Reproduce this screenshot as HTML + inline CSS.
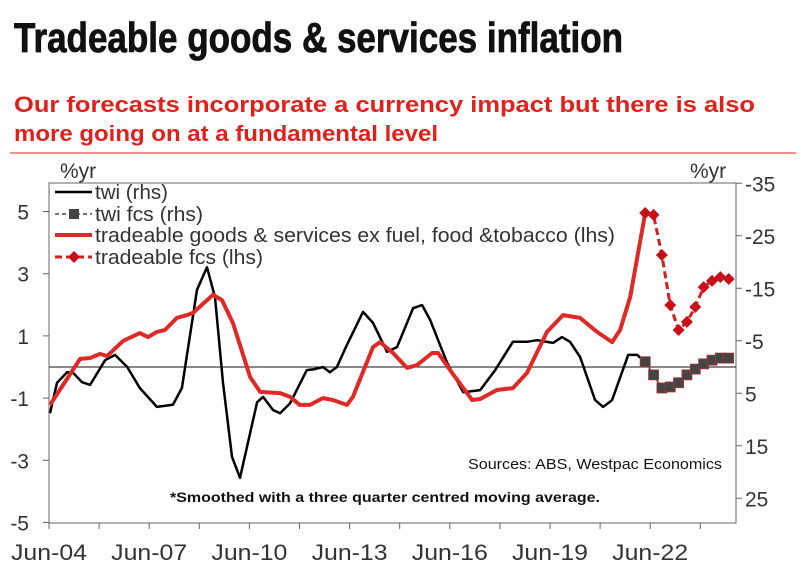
<!DOCTYPE html>
<html><head><meta charset="utf-8">
<style>
html,body{margin:0;padding:0;background:#fff;}
svg{display:block;font-family:"Liberation Sans",sans-serif;}
</style></head>
<body>
<svg id="chart" width="810" height="582" viewBox="0 0 810 582">
<text x="14" y="52" font-size="42" font-weight="bold" font-family="Liberation Sans Narrow, Liberation Sans, sans-serif" textLength="609" lengthAdjust="spacingAndGlyphs" fill="#111" stroke="#111" stroke-width="0.8">Tradeable goods &amp; services inflation</text>
<text x="14" y="112" font-size="22" font-weight="bold" fill="#e0201b" textLength="741" lengthAdjust="spacingAndGlyphs">Our forecasts incorporate a currency impact but there is also</text>
<text x="14" y="141" font-size="22" font-weight="bold" fill="#e0201b" textLength="424" lengthAdjust="spacingAndGlyphs">more going on at a fundamental level</text>
<line x1="10" y1="153" x2="796" y2="153" stroke="#e0201b" stroke-width="1"/>
<text x="60" y="178" font-size="21" fill="#333">%yr</text>
<text x="690" y="178" font-size="21" fill="#333">%yr</text>
<g id="axes"></g>
<g id="series"></g>
<g id="legend"></g>
<text x="468" y="469" font-size="15" fill="#111" textLength="254" lengthAdjust="spacingAndGlyphs">Sources: ABS, Westpac Economics</text>
<text x="170" y="502" font-size="14" font-weight="bold" fill="#111" textLength="430" lengthAdjust="spacingAndGlyphs">*Smoothed with a three quarter centred moving average.</text>
</svg>
<script>
const leftTicks=[5,3,1,-1,-3,-5];
const rightTicks=[-35,-25,-15,-5,5,15,25];
const xTickLabels=["Jun-04","Jun-07","Jun-10","Jun-13","Jun-16","Jun-19","Jun-22"];
const xTickYears=[2004.5,2007.5,2010.5,2013.5,2016.5,2019.5,2022.5];
const tgDates=[2004.53,2005.43,2005.73,2006.03,2006.24,2006.72,2007.22,2007.46,2007.73,2007.97,2008.33,2008.63,2008.81,2009.41,2009.68,2010.01,2010.52,2010.82,2011.42,2011.72,2012.01,2012.31,2012.70,2013.00,2013.42,2013.60,2014.20,2014.41,2014.80,2015.22,2015.52,2015.97,2016.15,2016.57,2017.17,2017.41,2017.91,2018.39,2018.81,2019.41,2019.89,2020.40,2020.91,2021.36,2021.60,2021.90,2022.35];
const tgValues=[-1.22,0.26,0.29,0.42,0.35,0.84,1.09,0.96,1.13,1.19,1.58,1.67,1.74,2.32,2.15,1.41,-0.32,-0.80,-0.84,-0.96,-1.22,-1.22,-1.00,-1.06,-1.22,-0.96,0.64,0.80,0.45,-0.03,0.06,0.45,0.45,-0.19,-1.06,-1.03,-0.74,-0.68,-0.19,1.13,1.67,1.58,1.13,0.80,1.19,2.25,4.95];
const fcsDates=[2022.35,2022.6,2022.85,2023.1,2023.35,2023.6,2023.85,2024.1,2024.35,2024.6,2024.85];
const tgFcs=[4.95,4.89,3.60,1.99,1.19,1.45,1.93,2.57,2.77,2.89,2.83];
const twiDates=[2004.53,2004.74,2005.04,2005.22,2005.49,2005.73,2006.18,2006.48,2006.84,2007.22,2007.73,2008.21,2008.48,2008.93,2009.23,2009.47,2009.71,2009.98,2010.22,2010.73,2010.91,2011.21,2011.42,2011.72,2012.22,2012.46,2012.70,2012.91,2013.12,2013.42,2013.90,2014.20,2014.62,2014.92,2015.40,2015.67,2015.91,2016.42,2016.90,2017.41,2017.86,2018.39,2018.81,2019.11,2019.59,2019.86,2020.10,2020.40,2020.85,2021.09,2021.36,2021.84,2022.11,2022.29,2022.35];
const twiValues=[8.8,3.0,1.0,1.1,2.9,3.4,-1.3,-2.3,0,4.0,7.6,7.2,4.0,-14.7,-19.0,-13.3,3.0,17.1,21.1,6.7,5.7,8.2,8.8,6.9,0.6,0.4,0,1.0,0,-4.2,-10.5,-8.4,-2.9,-3.8,-11.2,-11.8,-9.0,-0.8,4.8,4.4,0.6,-4.8,-4.8,-5.1,-4.6,-5.7,-4.8,-1.9,6.3,7.6,6.3,-2.3,-2.3,-1.3,-1.0];
const twiFcs=[-1.0,1.5,4.0,3.8,3.0,1.5,0.4,-0.6,-1.3,-1.7,-1.7];

const NS="http://www.w3.org/2000/svg";
const X0=49, PXY=33.4, L=49, R=736, T=183, B=523, Y0=367;
function xs(yr){return X0+(yr-2004.5)*PXY;}
function yl(v){return Y0-v*31.1;}
function yr(v){return Y0+v*5.25;}
function mk(tag,attrs,parent){const e=document.createElementNS(NS,tag);for(const k in attrs)e.setAttribute(k,attrs[k]);parent.appendChild(e);return e;}
const axes=document.getElementById('axes'), ser=document.getElementById('series'), leg=document.getElementById('legend');

let e=mk('rect',{x:L,y:T,width:R-L,height:B-T,fill:'none',stroke:'#666','stroke-width':1},axes);


e=mk('line',{x1:L,y1:Y0,x2:R,y2:Y0,stroke:'#111','stroke-width':1},axes);


leftTicks.forEach(v=>{
  const y=yl(v);
  let t=mk('line',{x1:L-6,y1:y,x2:L,y2:y,stroke:'#666'},axes);
  
  
  let tx=mk('text',{x:29,y:y+8,'font-size':21,fill:'#333','text-anchor':'end'},axes);
  tx.textContent=v;
  
  
});
rightTicks.forEach(v=>{
  const y=yr(v);
  let t=mk('line',{x1:R,y1:y,x2:R+6,y2:y,stroke:'#666'},axes);
  
  
  let tx=mk('text',{x:745,y:y+8,'font-size':21,fill:'#333'},axes);
  tx.textContent=v;
  
  
});
for(let yv=2004.5; xs(yv)<=R+1; yv+=1.5){
  let t=mk('line',{x1:xs(yv),y1:B,x2:xs(yv),y2:B+6,stroke:'#666'},axes);
  
  
}
xTickLabels.forEach((s,i)=>{
  let tx=mk('text',{x:xs(xTickYears[i]),y:560,'font-size':22,fill:'#333','text-anchor':'middle',textLength:76,lengthAdjust:'spacingAndGlyphs'},axes);
  tx.textContent=s;
  
  
});

function pts(d,v,f){return d.map((x,i)=>xs(x).toFixed(1)+','+f(v[i]).toFixed(1)).join(' ');}
let p=mk('polyline',{points:pts(twiDates,twiValues,yr),fill:'none',stroke:'#000','stroke-width':2.5,'stroke-linejoin':'round'},ser);


p=mk('polyline',{points:pts(tgDates,tgValues,yl),fill:'none',stroke:'#dd2a27','stroke-width':4,'stroke-linejoin':'round'},ser);


p=mk('polyline',{points:pts(fcsDates,twiFcs,yr),fill:'none',stroke:'#444','stroke-width':1.5,'stroke-dasharray':'4,3'},ser);


fcsDates.forEach((d,i)=>{
  const s=mk('rect',{x:xs(d)-5,y:yr(twiFcs[i])-5,width:10,height:10,fill:'#444',stroke:'#a33','stroke-width':0.8},ser);
  
  
});
p=mk('polyline',{points:pts(fcsDates,tgFcs,yl),fill:'none',stroke:'#d0201c','stroke-width':3,'stroke-dasharray':'7,4'},ser);


fcsDates.forEach((d,i)=>{
  const x=xs(d),y=yl(tgFcs[i]);
  const s=mk('polygon',{points:`${x},${y-6} ${x+6},${y} ${x},${y+6} ${x-6},${y}`,fill:'#c8101a'},ser);
  
  
});

const legY=[192,214,235,257];
const legLabels=["twi (rhs)","twi fcs (rhs)","tradeable goods & services ex fuel, food &tobacco (lhs)","tradeable fcs (lhs)"];
const legWidths=[73,108,520,168];
legLabels.forEach((s,i)=>{
  const y=legY[i];
  let ln;
  if(i===0) ln=mk('line',{x1:55,y1:y,x2:92,y2:y,stroke:'#000','stroke-width':2.5},leg);
  if(i===1){ln=mk('line',{x1:55,y1:y,x2:92,y2:y,stroke:'#444','stroke-width':1.5,'stroke-dasharray':'4,3'},leg);
    const m=mk('rect',{x:69,y:y-5,width:10,height:10,fill:'#444'},leg);
    
    }
  if(i===2) ln=mk('line',{x1:55,y1:y,x2:92,y2:y,stroke:'#dd2a27','stroke-width':4},leg);
  if(i===3){ln=mk('line',{x1:55,y1:y,x2:92,y2:y,stroke:'#d0201c','stroke-width':3,'stroke-dasharray':'7,4'},leg);
    const m=mk('polygon',{points:`74,${y-6} 80,${y} 74,${y+6} 68,${y}`,fill:'#c8101a'},leg);
    
    }
  
  
  const t=mk('text',{x:95,y:y+7,'font-size':20,fill:'#333',textLength:legWidths[i],lengthAdjust:'spacingAndGlyphs'},leg);
  t.textContent=s;
  
  
});
</script>
</body></html>
